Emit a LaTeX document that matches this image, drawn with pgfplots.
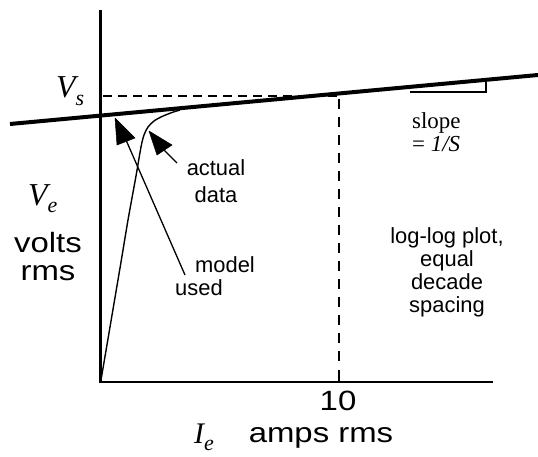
\documentclass[border=0pt]{standalone}
\usepackage{pgfplots}
\pgfplotsset{compat=1.18}
\usepackage{fontspec}
\setmainfont{Liberation Sans}
\newfontfamily\serif{Liberation Serif}
\newfontfamily\widesans[FakeStretch=1.18]{Liberation Sans}

% label helpers: sans annotations, larger axis captions, serif symbols
\newcommand{\notefont}{\fontsize{22}{23}\selectfont}
\newcommand{\capfont}{\widesans\fontsize{28}{28}\selectfont}
\newcommand{\sym}[3]{{\serif\itshape\fontsize{#1}{#1}\selectfont #2\raisebox{-0.25em}{\fontsize{22}{22}\selectfont #3}}}

\begin{document}
\begin{tikzpicture}
\begin{axis}[
  width=538bp, height=457bp, scale only axis,
  xmin=0, xmax=538, ymin=0, ymax=457, y dir=reverse,
  hide axis, clip=false,
]
% axes of the log-log sketch
\addplot[black, line width=3bp] coordinates {(100,10) (100,381)};
\addplot[black, line width=1.5bp] coordinates {(99,382) (493,382)};

% high-current asymptote, slope 1/S
\addplot[black, line width=4bp] coordinates {(10,124) (538,75)};

% V_s level and the 10 A marker
\addplot[black, line width=1.6bp, dash pattern=on 9bp off 6bp] coordinates {(103,96) (340,96)};
\addplot[black, line width=1.3bp, dash pattern=on 10bp off 8bp] coordinates {(339,99) (339,368)};
\addplot[black, line width=1.3bp] coordinates {(339,370) (339,382)};

% slope triangle
\addplot[black, line width=1.3bp] coordinates {(410,92) (486,92) (486,80)};

% measured curve: linear rise bending into the asymptote
\addplot[black, line width=1.4bp, smooth] coordinates {
  (101,380) (120,268) (128,220) (136,176) (141,147) (144,135)
  (148,127) (154,121) (162,116.5) (172,112.5) (180,110)};

% leader for the model
\addplot[black, line width=1.3bp] coordinates {(185,275) (126,140)};
\addplot[black, fill=black, line width=0.5bp] coordinates {(115,118) (117,145) (135,138) (115,118)};

% leader for the actual data
\addplot[black, line width=1.3bp] coordinates {(164,150) (177,163)};
\addplot[black, fill=black, line width=0.5bp] coordinates {(149,131) (157,155) (172,145) (149,131)};

% symbols
\node[anchor=base west, inner sep=0pt] at (axis cs:56,98) {\sym{32}{V}{s}};
\node[anchor=base west, inner sep=0pt] at (axis cs:28,205) {\sym{32}{V}{e}};
\node[anchor=base west, inner sep=0pt] at (axis cs:194,443) {\sym{30}{I}{e}};

% axis captions
\node[anchor=base, inner sep=0pt] at (axis cs:48,252) {\capfont volts};
\node[anchor=base, inner sep=0pt] at (axis cs:48,280) {\capfont rms};
\node[anchor=base, inner sep=0pt] at (axis cs:321,442) {\capfont amps rms};
\node[anchor=base, inner sep=0pt] at (axis cs:338,410) {\capfont 10};

% annotations
\node[anchor=base, inner sep=0pt] at (axis cs:216,175) {\notefont actual};
\node[anchor=base, inner sep=0pt] at (axis cs:216,202) {\notefont data};
\node[anchor=base, inner sep=0pt] at (axis cs:225,272) {\notefont model};
\node[anchor=base, inner sep=0pt] at (axis cs:199,295) {\notefont used};
\node[anchor=base west, inner sep=0pt] at (axis cs:412,128) {\serif\fontsize{23}{23}\selectfont slope};
\node[anchor=base west, inner sep=0pt] at (axis cs:412,151) {\serif\fontsize{23}{23}\selectfont = \textit{1/S}};
\node[anchor=base, inner sep=0pt] at (axis cs:447,243) {\notefont log-log plot,};
\node[anchor=base, inner sep=0pt] at (axis cs:447,266) {\notefont equal};
\node[anchor=base, inner sep=0pt] at (axis cs:447,289) {\notefont decade};
\node[anchor=base, inner sep=0pt] at (axis cs:447,312) {\notefont spacing};
\end{axis}
\pgfresetboundingbox
\path (current axis.south west) rectangle (current axis.north east);
\end{tikzpicture}
\end{document}
